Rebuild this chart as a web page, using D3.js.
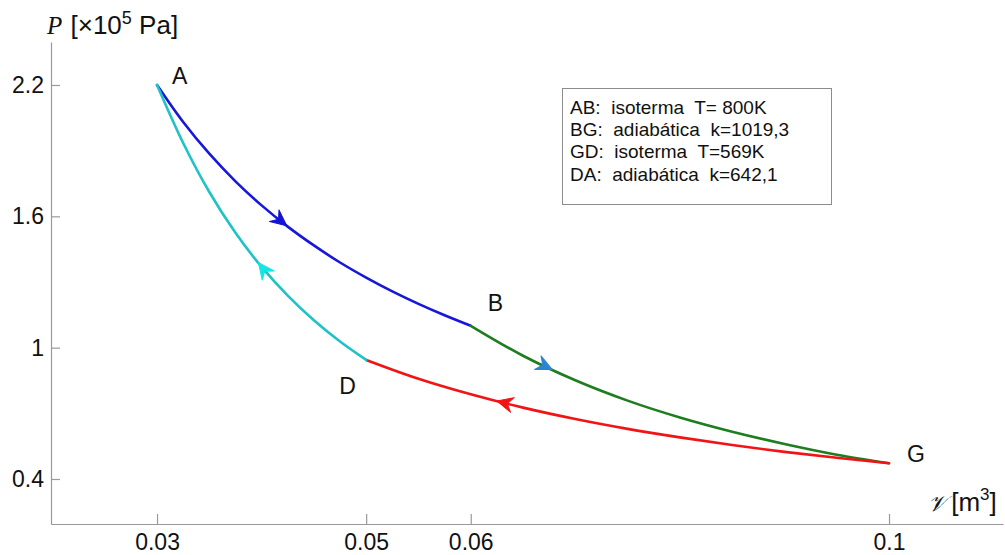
<!DOCTYPE html>
<html>
<head>
<meta charset="utf-8">
<script src="https://cdn.jsdelivr.net/npm/d3@7/dist/d3.min.js"></script>
<style>
  html, body { margin: 0; padding: 0; background: #fff; }
  svg { display: block; }
  text { font-family: "Liberation Sans", Arial, sans-serif; fill: #111; }
</style>
</head>
<body>
<svg id="chart" width="1005" height="555"></svg>
<script>
// ---- data ----
const xTicks = [0.03, 0.05, 0.06, 0.1];
const yTicks = [0.4, 1.0, 1.6, 2.2];
const xTickLabels = ["0.03", "0.05", "0.06", "0.1"];
const yTickLabels = ["0.4", "1", "1.6", "2.2"];

// AB: isotherm T = 800 K
const V_AB = [0.030, 0.0325, 0.035, 0.0375, 0.040, 0.0425, 0.045, 0.0475, 0.050, 0.0525, 0.055, 0.0575, 0.060];
const P_AB = [2.200, 2.031, 1.886, 1.760, 1.650, 1.553, 1.467, 1.389, 1.320, 1.257, 1.200, 1.148, 1.100];
// BG: adiabatic k = 1019,3
const V_BG = [0.060, 0.065, 0.070, 0.075, 0.080, 0.085, 0.090, 0.095, 0.100];
const P_BG = [1.100, 0.963, 0.851, 0.758, 0.681, 0.616, 0.560, 0.511, 0.472];
// GD: isotherm T = 569 K
const V_GD = [0.100, 0.095, 0.090, 0.085, 0.080, 0.075, 0.070, 0.065, 0.060, 0.055, 0.050];
const P_GD = [0.472, 0.497, 0.524, 0.555, 0.590, 0.629, 0.674, 0.726, 0.787, 0.858, 0.944];
// DA: adiabatic k = 642,1
const V_DA = [0.050, 0.0475, 0.045, 0.0425, 0.040, 0.0375, 0.035, 0.0325, 0.030];
const P_DA = [0.944, 1.028, 1.125, 1.238, 1.369, 1.525, 1.711, 1.935, 2.200];

const segNames = ["AB", "BG", "GD", "DA"];
const arrowV = [0.0424, 0.0678, 0.0625, 0.0397];   // where the direction arrows sit

const pointNames = ["A", "B", "D", "G"];
const pointV = [0.03, 0.06, 0.05, 0.1];
const pointP = [2.2, 1.1, 0.944, 0.472];

const legendLines = [
  "AB:  isoterma  T= 800K",
  "BG:  adiabática  k=1019,3",
  "GD:  isoterma  T=569K",
  "DA:  adiabática  k=642,1"
];

// ---- styles ----
const lineColors  = { AB: "#1717d9", BG: "#1e7d1e", GD: "#f21414", DA: "#1fc2c6" };
const arrowColors = { AB: "#1414d4", BG: "#2a84d2", GD: "#f21414", DA: "#12e6e6" };
const labelOffsets = { A: [15, -1], B: [17, -15], D: [-27, 34], G: [18, -1] };

const svg = d3.select("#chart");
const x = d3.scaleLinear().domain([0.01986, 0.1109]).range([51, 1003]);
const y = d3.scaleLinear().domain([0.1944, 2.3964]).range([524, 42]);

const axisColor = "#9a9a9a";

// x axis
const gx = svg.append("g").attr("transform", "translate(0,524)")
  .call(d3.axisBottom(x).tickValues(xTicks)
    .tickFormat((d, i) => xTickLabels[i])
    .tickSizeInner(-10).tickSizeOuter(0).tickPadding(10));
// y axis
const gy = svg.append("g").attr("transform", "translate(51,0)")
  .call(d3.axisLeft(y).tickValues(yTicks)
    .tickFormat((d, i) => yTickLabels[i])
    .tickSizeInner(-9).tickSizeOuter(0).tickPadding(7));

[gx, gy].forEach(g => {
  g.select(".domain").attr("stroke", axisColor).attr("stroke-width", 1.2);
  g.selectAll(".tick line").attr("stroke", axisColor).attr("stroke-width", 1.2);
  g.selectAll(".tick text").attr("font-size", 23)
    .attr("font-family", '"Liberation Sans", Arial, sans-serif').attr("fill", "#111");
});

// axis titles
const yTitle = svg.append("text").attr("x", 47).attr("y", 34).attr("font-size", 26);
yTitle.append("tspan").text("P").attr("font-family", '"Liberation Serif", "DejaVu Serif", serif')
  .attr("font-style", "italic").attr("font-size", 25);
yTitle.append("tspan").text(" [×10").attr("dx", 1);
yTitle.append("tspan").text("5").attr("font-size", 18).attr("dy", -10);
yTitle.append("tspan").text(" Pa]").attr("dy", 10);

const xTitle = svg.append("text").attr("x", 928).attr("y", 511).attr("font-size", 26);
xTitle.append("tspan").text("𝒱").attr("font-family", '"DejaVu Serif", "Liberation Serif", serif')
  .attr("font-style", "italic").attr("font-size", 22);
xTitle.append("tspan").text(" [m").attr("dx", -2);
xTitle.append("tspan").text("3").attr("font-size", 17).attr("dy", -11);
xTitle.append("tspan").text("]").attr("dy", 11);

// curves
const segData = {
  AB: V_AB.map((v, i) => [v, P_AB[i]]),
  BG: V_BG.map((v, i) => [v, P_BG[i]]),
  GD: V_GD.map((v, i) => [v, P_GD[i]]),
  DA: V_DA.map((v, i) => [v, P_DA[i]])
};
const line = d3.line().x(d => x(d[0])).y(d => y(d[1])).curve(d3.curveCatmullRom.alpha(0.5));

segNames.forEach(name => {
  svg.append("path").datum(segData[name])
    .attr("d", line).attr("fill", "none")
    .attr("stroke", lineColors[name]).attr("stroke-width", 2.6)
    .attr("stroke-linejoin", "round").attr("stroke-linecap", "round");
});

// arrows
segNames.forEach((name, k) => {
  const pts = segData[name].map(d => [x(d[0]), y(d[1])]);
  const px = x(arrowV[k]);
  let i = 0;
  for (; i < pts.length - 1; i++) {
    const a = pts[i][0], b = pts[i + 1][0];
    if ((px - a) * (px - b) <= 0) break;
  }
  const p0 = pts[i], p1 = pts[i + 1];
  const t = (px - p0[0]) / (p1[0] - p0[0]);
  const py = p0[1] + t * (p1[1] - p0[1]);
  const ang = Math.atan2(p1[1] - p0[1], p1[0] - p0[0]) * 180 / Math.PI;
  svg.append("path")
    .attr("d", "M0,0 L-16,-7.5 L-10.5,0 L-16,7.5 Z")
    .attr("transform", `translate(${px},${py}) rotate(${ang})`)
    .attr("fill", arrowColors[name]).attr("stroke", arrowColors[name]).attr("stroke-width", 1)
    .attr("stroke-linejoin", "round");
});

// point labels
pointNames.forEach((n, i) => {
  svg.append("text")
    .attr("x", x(pointV[i]) + labelOffsets[n][0])
    .attr("y", y(pointP[i]) + labelOffsets[n][1])
    .attr("font-size", 23).text(n);
});

// legend
svg.append("rect").attr("x", 562.5).attr("y", 88.5).attr("width", 269).attr("height", 116)
  .attr("fill", "#fff").attr("stroke", "#8c8c8c").attr("stroke-width", 1);
legendLines.forEach((s, i) => {
  svg.append("text").attr("x", 570).attr("y", 114 + i * 22.2)
    .attr("font-size", 19).style("white-space", "pre").text(s);
});
</script>
</body>
</html>
